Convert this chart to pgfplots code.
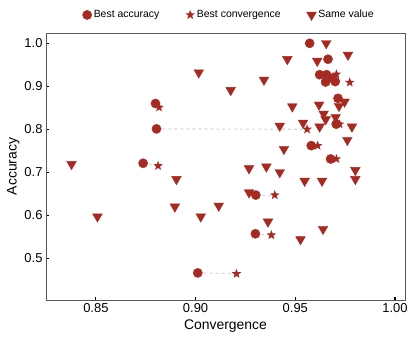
\documentclass[border=0pt]{standalone}
\usepackage{pgfplots}
\pgfplotsset{compat=1.18}
\usepackage{fontspec}
\setmainfont{Liberation Sans}
\definecolor{mred}{RGB}{165,42,34}
\definecolor{pairgray}{RGB}{215,215,215}

% filled five-point star
\pgfdeclareplotmark{fstar}{%
  \pgfpathmoveto{\pgfpointpolar{90}{\pgfplotmarksize}}%
  \pgfpathlineto{\pgfpointpolar{126}{0.42\pgfplotmarksize}}%
  \pgfpathlineto{\pgfpointpolar{162}{\pgfplotmarksize}}%
  \pgfpathlineto{\pgfpointpolar{198}{0.42\pgfplotmarksize}}%
  \pgfpathlineto{\pgfpointpolar{234}{\pgfplotmarksize}}%
  \pgfpathlineto{\pgfpointpolar{270}{0.42\pgfplotmarksize}}%
  \pgfpathlineto{\pgfpointpolar{306}{\pgfplotmarksize}}%
  \pgfpathlineto{\pgfpointpolar{342}{0.42\pgfplotmarksize}}%
  \pgfpathlineto{\pgfpointpolar{18}{\pgfplotmarksize}}%
  \pgfpathlineto{\pgfpointpolar{54}{0.42\pgfplotmarksize}}%
  \pgfpathclose\pgfusepathqfill}

\begin{document}
\begin{tikzpicture}
\begin{axis}[
  scale only axis, width=359bp, height=267bp,
  xmin=0.825, xmax=1.005, ymin=0.403, ymax=1.024,
  xtick={0.85,0.90,0.95,1.00}, ytick={0.5,0.6,0.7,0.8,0.9,1.0},
  xticklabel style={/pgf/number format/.cd, fixed, fixed zerofill, precision=2},
  yticklabel style={/pgf/number format/.cd, fixed, fixed zerofill, precision=1},
  /pgf/number format/assume math mode=true,
  ticklabel style={font=\fontsize{13}{15}\selectfont},
  label style={font=\fontsize{14}{16}\selectfont},
  xlabel={Convergence}, ylabel={Accuracy},
  xlabel style={yshift=0bp}, ylabel style={yshift=-2bp},
  tick align=inside, tick pos=left, major tick length=3bp,
  tick style={black, line width=1.1pt},
  axis line style={draw=black!65, line width=0.8pt},
  legend columns=3,
  legend style={draw=none, fill=none, at={(0.51,1.035)}, anchor=south,
    font=\fontsize{10.5}{12}\selectfont,
    /tikz/every even column/.append style={column sep=24bp}},
  legend cell align=left,
]
% dashed links between the two best values of each run
\addplot[pairgray, dashed, line width=1.1pt, forget plot] coordinates {(0.8799,0.860) (0.8817,0.851)};
\addplot[pairgray, dashed, line width=1.1pt, forget plot] coordinates {(0.8804,0.801) (0.9559,0.800)};
\addplot[pairgray, dashed, line width=1.1pt, forget plot] coordinates {(0.8737,0.721) (0.8812,0.715)};
\addplot[pairgray, dashed, line width=1.1pt, forget plot] coordinates {(0.9011,0.466) (0.9205,0.464)};
\addplot[pairgray, dashed, line width=1.1pt, forget plot] coordinates {(0.9302,0.647) (0.9397,0.647)};
\addplot[pairgray, dashed, line width=1.1pt, forget plot] coordinates {(0.9300,0.557) (0.9380,0.554)};
\addplot[pairgray, dashed, line width=1.1pt, forget plot] coordinates {(0.9580,0.762) (0.9612,0.762)};
\addplot[pairgray, dashed, line width=1.1pt, forget plot] coordinates {(0.9677,0.731) (0.9706,0.731)};
\addplot[pairgray, dashed, line width=1.1pt, forget plot] coordinates {(0.9705,0.812) (0.9722,0.812)};
\addplot[pairgray, dashed, line width=1.1pt, forget plot] coordinates {(0.9687,0.919) (0.9773,0.909)};

\addplot[only marks, mark=*, mark size=4.6bp, mred, mark options={draw=mred, fill=mred}] coordinates {
  (0.9572,1.000) (0.9664,0.963) (0.9622,0.927) (0.9657,0.927) (0.9687,0.919)
  (0.9652,0.910) (0.9700,0.911) (0.9714,0.872) (0.9705,0.812) (0.9580,0.762)
  (0.9677,0.731) (0.8799,0.860) (0.8804,0.801) (0.8737,0.721) (0.9011,0.466)
  (0.9302,0.647) (0.9300,0.557)};
\addplot[only marks, mark=fstar, mark size=5bp, mred, mark options={fill=mred}] coordinates {
  (0.9706,0.928) (0.9773,0.909) (0.9722,0.812) (0.9612,0.762) (0.9706,0.731)
  (0.8817,0.851) (0.9559,0.800) (0.8812,0.715) (0.9205,0.464) (0.9397,0.647)
  (0.9380,0.554)};
\addplot[only marks, mark=triangle*, mark size=5.6bp, mred, mark options={rotate=180, draw=mred, fill=mred}] coordinates {
  (0.8378,0.719) (0.8508,0.597) (0.9016,0.932) (0.9176,0.891) (0.8904,0.684)
  (0.8896,0.620) (0.9026,0.597) (0.9116,0.622) (0.9343,0.915) (0.9460,0.963)
  (0.9655,1.000) (0.9764,0.973) (0.9610,0.959) (0.9485,0.853) (0.9619,0.857)
  (0.9719,0.854) (0.9747,0.864) (0.9642,0.836) (0.9652,0.823) (0.9702,0.828)
  (0.9539,0.815) (0.9422,0.808) (0.9622,0.806) (0.9784,0.806) (0.9761,0.775)
  (0.9443,0.754) (0.9268,0.709) (0.9355,0.713) (0.9422,0.700) (0.9547,0.680)
  (0.9634,0.680) (0.9801,0.705) (0.9801,0.684) (0.9268,0.653) (0.9363,0.585)
  (0.9639,0.568) (0.9526,0.544)};
\legend{Best accuracy, Best convergence, Same value}
\coordinate (o) at (rel axis cs:0,0);
\end{axis}
\pgfresetboundingbox
\path (o) ++(-46bp,-39bp) rectangle ++(415bp,339bp);
\end{tikzpicture}
\end{document}
